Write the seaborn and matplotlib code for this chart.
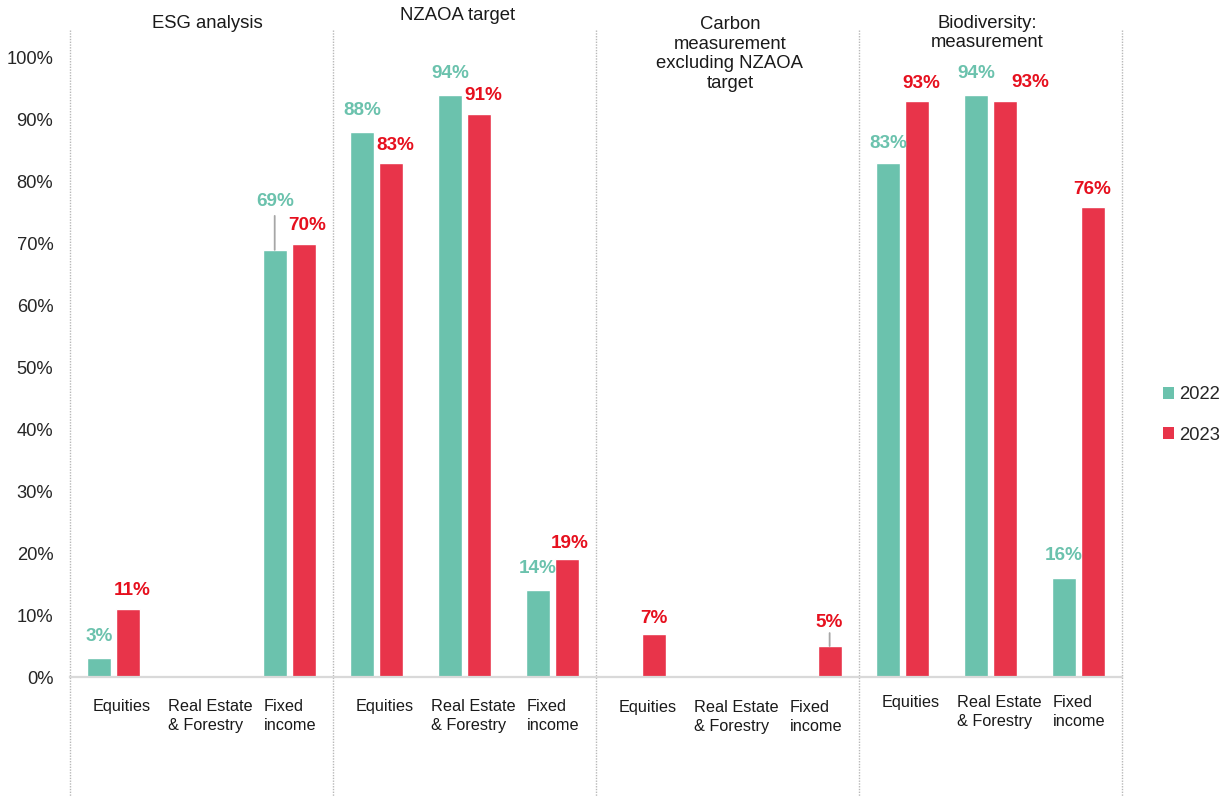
import numpy as np
import pandas as pd
import matplotlib
matplotlib.use("Agg")
import matplotlib.pyplot as plt
from matplotlib.patches import Patch
import seaborn as sns

# ---------------- data ----------------
groups = ["ESG analysis", "NZAOA target",
          "Carbon\nmeasurement\nexcluding NZAOA\ntarget",
          "Biodiversity:\nmeasurement"]
asset_classes = ["Equities", "Real Estate\n& Forestry", "Fixed\nincome"]
years = ["2022", "2023"]
values_2022 = [3, np.nan, 69, 88, 94, 14, np.nan, np.nan, np.nan, 83, 94, 16]
values_2023 = [11, np.nan, 70, 83, 91, 19, 7, np.nan, 5, 93, 93, 76]
y_ticks = [0, 10, 20, 30, 40, 50, 60, 70, 80, 90, 100]

# ---------------- style ----------------
sns.set_style("white")
plt.rcParams["font.family"] = ["Liberation Sans", "DejaVu Sans"]

W, H = 1227, 797
bar_colors = {"2022": "#6BC2AD", "2023": "#E8344A"}
text_colors = {"2022": "#6BC2AD", "2023": "#E6101E"}
grid_gray = "#B8B8B8"

slots = [f"{g}|{a}" for g in groups for a in asset_classes]
rows = []
for yr, vals in zip(years, [values_2022, values_2023]):
    for s, v in zip(slots, vals):
        if not np.isnan(v):
            rows.append({"slot": s, "year": yr, "value": v})
df = pd.DataFrame(rows)

fig = plt.figure(figsize=(W / 100, H / 100), dpi=100)
ax_left, ax_right, ax_bottom, ax_top = 70, 1122, 677, 58
ax = fig.add_axes([ax_left / W, 1 - ax_bottom / H,
                   (ax_right - ax_left) / W, (ax_bottom - ax_top) / H])

sns.barplot(data=df, x="slot", y="value", hue="year", order=slots,
            hue_order=years, palette=bar_colors, width=0.66, gap=0.17,
            saturation=1, errorbar=None, legend=False, ax=ax)

ax.set_xlim(-0.5, len(slots) - 0.5)
ax.set_ylim(0, 100)
ax.set_xlabel("")
ax.set_ylabel("")
ax.set_xticks([])
ax.set_yticks(y_ticks)
ax.set_yticklabels([f"{v}%" for v in y_ticks], fontsize=13.2, color="#262626")
ax.tick_params(axis="y", length=0, pad=12)
for sp in ["left", "right", "top"]:
    ax.spines[sp].set_visible(False)
ax.spines["bottom"].set_color("#D9D9D9")
ax.spines["bottom"].set_linewidth(1.6)

PX = 0.72  # points per pixel

# ---------------- value labels ----------------
default_off = {"2022": (0, 22), "2023": (4, 18)}
special_off = {(2, "2022"): (0, 48), (5, "2023"): (3, 16),
               (6, "2023"): (0, 15), (8, "2023"): (0, 24),
               (9, "2022"): (0, 20), (10, "2023"): (25, 19),
               (11, "2023"): (0, 17)}
leaders = {(2, "2022"): 14, (8, "2023"): 11}

for yr, cont in zip(years, ax.containers):
    for bar in cont:
        h = bar.get_height()
        if np.isnan(h):
            continue
        xc = bar.get_x() + bar.get_width() / 2
        idx = int(round(xc))
        dx, dy = special_off.get((idx, yr), default_off[yr])
        ax.annotate(f"{h:.0f}%", xy=(xc, h), xytext=(dx * PX, dy * PX),
                    textcoords="offset points", ha="center", va="center",
                    fontsize=13.6, fontweight="bold", color=text_colors[yr])
        if (idx, yr) in leaders:
            gap = leaders[(idx, yr)]
            ax.annotate("", xy=(xc, h), xytext=(0, (dy - gap) * PX),
                        textcoords="offset points",
                        arrowprops=dict(arrowstyle="-", color="#A6A6A6", lw=1.3,
                                        shrinkA=0, shrinkB=0))

# ---------------- category labels ----------------
cat_dx = [8, 9, 1]
cat_dy = [22, 22, 23, 18]
for gi, g in enumerate(groups):
    for ai, a in enumerate(asset_classes):
        i = gi * 3 + ai
        ax.annotate(a, xy=(i, 0), xycoords=("data", "axes fraction"),
                    xytext=(cat_dx[ai] * PX, -cat_dy[gi] * PX),
                    textcoords="offset points", ha="center", va="top",
                    multialignment="left", fontsize=11.7, color="#1A1A1A",
                    linespacing=1.3)

# ---------------- separators ----------------
for k in range(len(groups) + 1):
    xs = -0.5 + 3 * k
    ax.plot([xs, xs], [(ax_bottom - 30) / (ax_bottom - ax_top) * 100,
                       -(797 - ax_bottom) / (ax_bottom - ax_top) * 100],
            color=grid_gray, lw=1.0, ls=(0, (1, 1)), clip_on=False)

# ---------------- group titles ----------------
title_pos = [(207, 23), (458, 16), (730, 54), (987, 33)]
for g, (tx, ty) in zip(groups, title_pos):
    fig.text(tx / W, 1 - ty / H, g, ha="center", va="center", fontsize=13.3,
             color="#1A1A1A", linespacing=1.2)

# ---------------- legend ----------------
handles = [Patch(facecolor=bar_colors[y], edgecolor="none") for y in years]
fig.legend(handles, years, loc="center left",
           bbox_to_anchor=(1163 / W, 1 - 415 / H), frameon=False,
           fontsize=13.3, handlelength=0.6, handleheight=0.6,
           handletextpad=0.25, labelspacing=1.25, borderpad=0,
           borderaxespad=0)

fig.savefig("out.png", dpi=100)
